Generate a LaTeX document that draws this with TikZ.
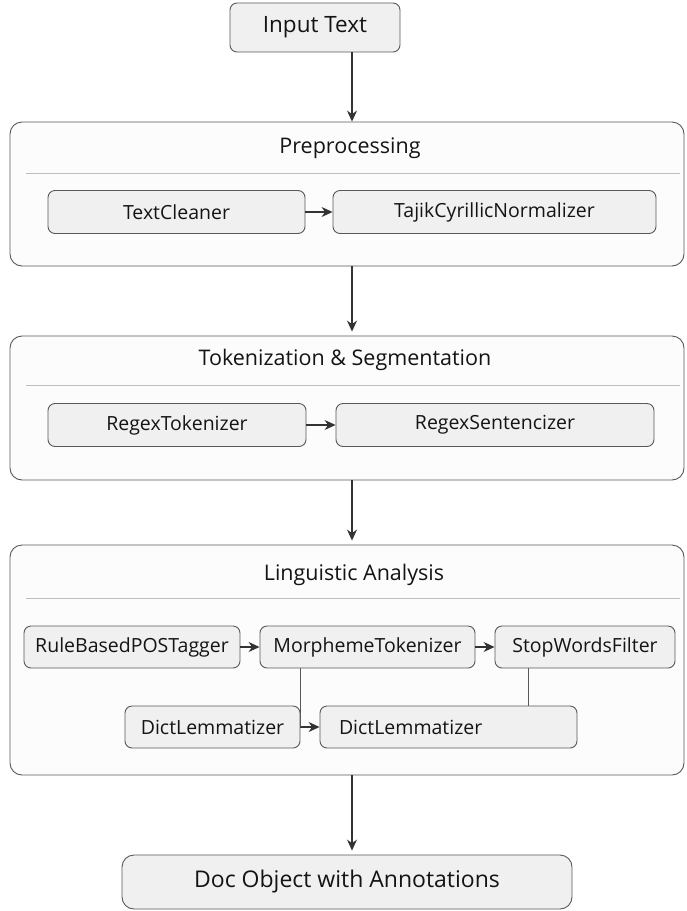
\documentclass[tikz,border=0pt]{standalone}
\usepackage{fontspec}
\setmainfont{Open Sans}
\usetikzlibrary{arrows.meta,positioning}

\begin{document}
\begin{tikzpicture}[
			x = 1pt, y = -1pt,
			every node/.style = {font = \fontsize{19.5}{23}\selectfont, text = black!92},
			comp/.style = {draw = black!65, fill = black!6, rounded corners = 7pt, line width = 0.9pt,
				minimum height = 43pt, inner sep = 0pt},
			stage/.style = {draw = black!65, fill = black!1, rounded corners = 12pt, line width = 0.9pt,
				inner sep = 0pt},
			title/.style = {font = \fontsize{21.5}{25}\selectfont},
			arr/.style = {-{Stealth[length = 11pt, width = 10pt]}, draw = black!80, line width = 1.1pt},
			link/.style = {draw = black!65, line width = 0.9pt},
			sep/.style = {draw = black!25, line width = 0.8pt}
			]

			\useasboundingbox (0,0) rectangle (686,911);

			% input
			\node[comp, minimum width = 170pt, minimum height = 49pt, font = \fontsize{22.5}{26}\selectfont] (input) at (315,27.5) {Input Text};

			% stage 1
			\node[stage, minimum width = 674pt, minimum height = 144pt] (pre) at (347,194) {};
			\node[title] (preT) at (350,148) {Preprocessing};
			\draw[sep] (26,173) -- (680,173);
			\node[comp, minimum width = 257pt] (clean) at (176.5,212) {TextCleaner};
			\node[comp, minimum width = 323pt] (norm) at (494.5,212) {TajikCyrillicNormalizer};
			\draw[arr] (clean) -- (norm);

			% stage 2
			\node[stage, minimum width = 674pt, minimum height = 144pt] (tok) at (347,408) {};
			\node[title] (tokT) at (345,360) {Tokenization \& Segmentation};
			\draw[sep] (26,385) -- (680,385);
			\node[comp, minimum width = 258pt] (rtok) at (177,425) {RegexTokenizer};
			\node[comp, minimum width = 318pt] (rsent) at (495,425) {RegexSentencizer};
			\draw[arr] (rtok) -- (rsent);

			% stage 3
			\node[stage, minimum width = 674pt, minimum height = 230pt] (ling) at (347,660) {};
			\node[title] (lingT) at (354,575) {Linguistic Analysis};
			\draw[sep] (26,598) -- (680,598);
			\node[comp, minimum width = 216pt, minimum height = 42pt] (pos) at (132,647) {RuleBasedPOSTagger};
			\node[comp, minimum width = 215pt, minimum height = 42pt] (morph) at (367.5,647) {MorphemeTokenizer};
			\node[comp, minimum width = 180pt, minimum height = 42pt] (stop) at (585,647) {StopWordsFilter};
			\node[comp, minimum width = 175pt, minimum height = 42pt] (lemA) at (212.5,727) {DictLemmatizer};
			\node[comp, minimum width = 257pt, minimum height = 42pt, text width = 219pt, inner xsep = 19pt,
				align = left] (lemB) at (448.5,727) {DictLemmatizer};
			\draw[arr] (pos) -- (morph);
			\draw[arr] (morph) -- (stop);
			\draw[arr] (lemA) -- (lemB);
			\draw[link] (lemA.east |- morph.south) -- (lemA.east);
			\draw[link] ([xshift = -57pt]stop.south) -- ([xshift = -57pt]stop.south |- lemB.north);

			% output
			\node[comp, minimum width = 450pt, minimum height = 54pt, rounded corners = 12pt,
				font = \fontsize{23}{27}\selectfont] (doc) at (347,882) {Doc Object with Annotations};

			% flow
			\draw[arr] ([xshift = 5pt]pre.north |- input.south) -- ([xshift = 5pt]pre.north);
			\draw[arr, shorten > = 4pt] ([xshift = 5pt]pre.south) -- ([xshift = 5pt]tok.north);
			\draw[arr, shorten > = 4pt] ([xshift = 5pt]tok.south) -- ([xshift = 5pt]ling.north);
			\draw[arr, shorten > = 4pt] ([xshift = 5pt]ling.south) -- ([xshift = 5pt]doc.north);

		\end{tikzpicture}
\end{document}
